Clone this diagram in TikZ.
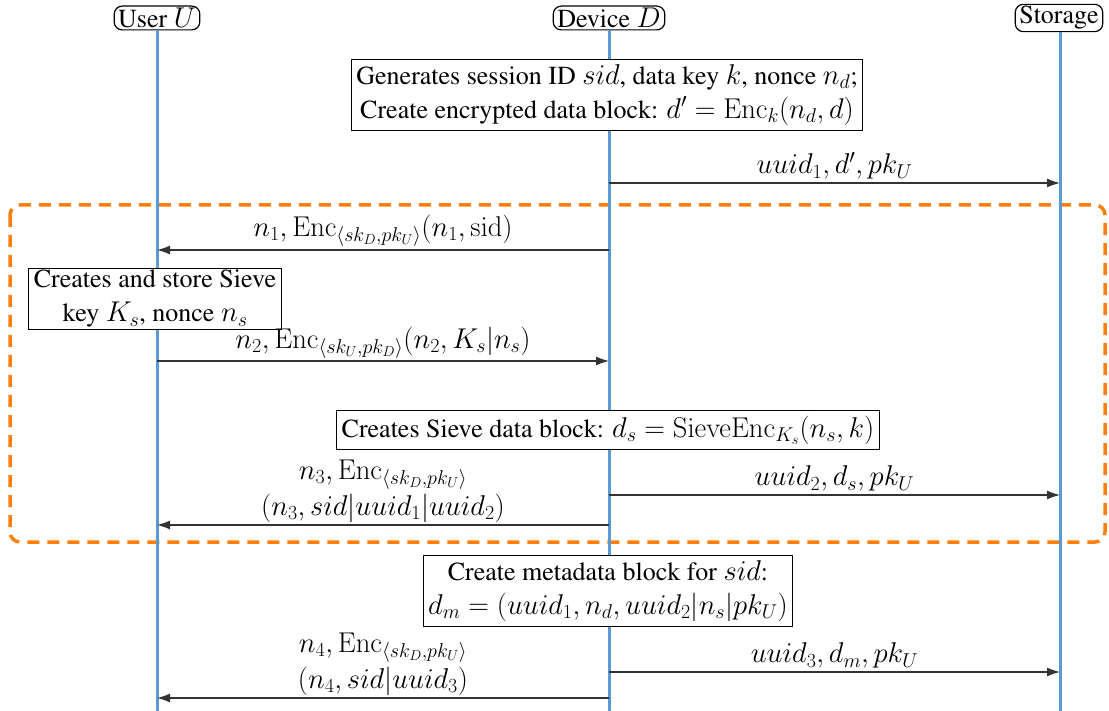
\RequirePackage{fix-cm}
\documentclass[tikz,border=0pt]{standalone}
\usepackage[T1]{fontenc}
\usepackage{times}
\DeclareMathSizes{26}{28.6}{20}{14.3}
\usetikzlibrary{arrows.meta}
\definecolor{lifeblue}{RGB}{91,155,213}
\definecolor{dashorange}{RGB}{255,127,14}
\newcommand{\Enc}{\mathrm{Enc}}
\begin{document}
\begin{tikzpicture}[x=1pt,y=-1pt,
  every node/.style={font=\rmfamily\fontsize{26}{34}\selectfont},
  actor/.style={draw, rounded corners=8pt, line width=1.2pt, inner xsep=4pt, inner ysep=2pt},
  procbox/.style={draw, line width=1.2pt, align=center, inner sep=5pt},
  life/.style={draw=lifeblue, line width=3pt},
  msg/.style={line width=1.3pt, draw=black!80, -{Latex[length=13pt,width=9pt]}},
  lbl/.style={align=center, inner sep=2pt},
  grp/.style={draw=dashorange, line width=3.5pt, dash pattern=on 12pt off 8pt, rounded corners=10pt}]
\useasboundingbox (0,0) rectangle (1109,711);

% group box
\draw[grp] (10,205) rectangle (1105,542);

% actors
\node[actor] (U) at (157,18) {User $U$};
\node[actor] (D) at (609,18) {Device $D$};
\node[actor] (S) at (1059,18) {Storage};
\coordinate (Uend) at (157,711);
\coordinate (Dend) at (609,711);
\coordinate (Send) at (1060,711);
\draw[life] (U.south) -- (Uend);
\draw[life] (D.south) -- (Dend);
\draw[life] (S.south -| Send) -- (Send);

% process boxes
\node[procbox, fill=white, inner ysep=2pt] (b2) at (155,299) {Creates and store Sieve\\ key $K_s$, nonce $n_s$};
\node[procbox, fill=white] (b1) at (607,95) {Generates session ID $sid$, data key $k$, nonce $n_d$;\\ Create encrypted data block: $d' = \Enc_k(n_d, d)$};
\node[procbox, fill=white] (b3) at (608,430) {Creates Sieve data block: $d_s = \mathrm{SieveEnc}_{K_s}(n_s, k)$};
\node[procbox, fill=white] (b4) at (608,591) {Create metadata block for $sid$:\\ $d_m = (uuid_1, n_d, uuid_2|n_s|pk_U)$};

% message endpoints
\coordinate (d1) at (609,183); \coordinate (s1) at (1060,183);
\coordinate (d2) at (609,250); \coordinate (u2) at (157,250);
\coordinate (u3) at (157,361); \coordinate (d3) at (609,361);
\coordinate (d4) at (609,495); \coordinate (s4) at (1060,495);
\coordinate (d5) at (609,525); \coordinate (u5) at (157,525);
\coordinate (d6) at (609,672); \coordinate (s6) at (1060,672);
\coordinate (d7) at (609,698); \coordinate (u7) at (157,698);

\draw[msg] (d1) -- node[lbl, above=1pt] {$uuid_1, d', pk_U$} (s1);
\draw[msg] (d2) -- node[lbl, above=1pt] {$n_1, \Enc_{\langle sk_D, pk_U\rangle}(n_1, \mathrm{sid})$} (u2);
\draw[msg] (u3) -- node[lbl, inner sep=1pt, above=1pt] {$n_2, \Enc_{\langle sk_U, pk_D\rangle}(n_2, K_s|n_s)$} (d3);
\draw[msg] (d4) -- node[lbl, above=1pt] {$uuid_2, d_s, pk_U$} (s4);
\draw[msg] (d5) -- node[lbl, above=0pt] {$n_3, \Enc_{\langle sk_D, pk_U\rangle}$\\[2pt] $(n_3, sid|uuid_1|uuid_2)$} (u5);
\draw[msg] (d6) -- node[lbl, above=1pt] {$uuid_3, d_m, pk_U$} (s6);
\draw[msg] (d7) -- node[lbl, above=0pt] {$n_4, \Enc_{\langle sk_D, pk_U\rangle}$\\[2pt] $(n_4, sid|uuid_3)$} (u7);
\end{tikzpicture}
\end{document}
